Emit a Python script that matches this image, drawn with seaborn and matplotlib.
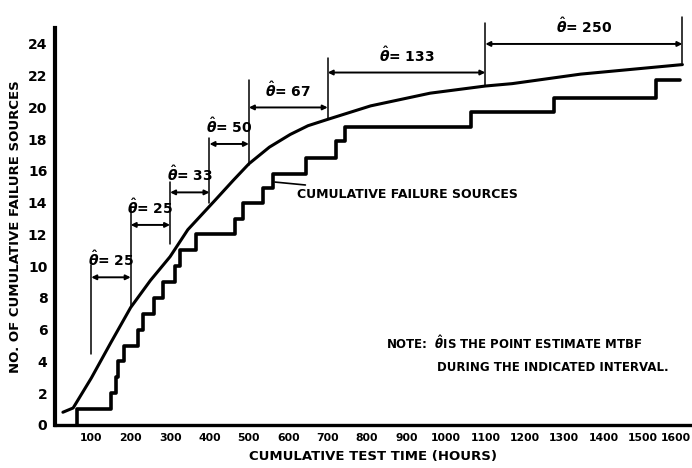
import numpy as np
import pandas as pd
import matplotlib
matplotlib.use("Agg")
import matplotlib.pyplot as plt
import matplotlib.transforms as mtransforms
import seaborn as sns

# cumulative failure sources (step curve)
step_hours = [64, 64, 149, 162, 169, 182, 219, 231, 260, 283, 312, 325, 365,
              464, 486, 537, 561, 646, 721, 744, 1064, 1274, 1532, 1595]
step_count = [0, 1, 2, 3, 4, 5, 6, 7, 8, 9, 10, 11, 12,
              13, 14, 14.9, 15.8, 16.8, 17.9, 18.8, 19.7, 20.6, 21.7, 21.7]

# smooth fitted growth curve
curve_hours = [28, 54, 100, 150, 200, 250, 300, 345, 414, 460, 500, 552, 605,
               650, 700, 809, 960, 1100, 1168, 1342, 1600]
curve_count = [0.8, 1.07, 2.95, 5.2, 7.4, 9.1, 10.6, 12.3, 14.15, 15.4, 16.45,
               17.5, 18.3, 18.85, 19.25, 20.1, 20.9, 21.35, 21.5, 22.1, 22.7]

# MTBF intervals and point estimates
interval_start = [100, 200, 300, 400, 500, 700, 1100]
interval_end = [200, 300, 400, 500, 700, 1100, 1600]
mtbf = [25, 25, 33, 50, 67, 133, 250]
arrow_level = [9.3, 12.6, 14.65, 17.7, 20.0, 22.2, 24.0]
# bottom / top of vertical marker lines at each boundary
bound_hours = [100, 200, 300, 400, 500, 700, 1100, 1600]
bound_low = [4.5, 7.4, 11.4, 14.0, 16.4, 19.3, 21.35, 22.8]
bound_high = [10.1, 13.7, 15.3, 18.1, 21.7, 23.1, 25.3, 25.7]

x_ticks = [100, 200, 300, 400, 500, 600, 700, 800, 900, 1000, 1100, 1200,
           1300, 1400, 1500, 1600]
y_ticks = [0, 2, 4, 6, 8, 10, 12, 14, 16, 18, 20, 22, 24]

sns.set_theme(style="white")
plt.rcParams["font.family"] = ["DejaVu Sans"]
plt.rcParams["font.weight"] = "bold"
plt.rcParams["text.color"] = "black"
plt.rcParams["axes.labelcolor"] = "black"
plt.rcParams["mathtext.fontset"] = "dejavusans"

fig = plt.figure(figsize=(6.92, 4.68), dpi=100)
ax = fig.add_axes([0.0795, 0.092, 0.918, 0.848])

steps = pd.DataFrame({"hours": step_hours, "count": step_count})
curve = pd.DataFrame({"hours": curve_hours, "count": curve_count})

sns.lineplot(data=steps, x="hours", y="count", ax=ax, color="black",
             linewidth=2.6, drawstyle="steps-post", estimator=None, sort=False)
sns.lineplot(data=curve, x="hours", y="count", ax=ax, color="black",
             linewidth=2.2, estimator=None, sort=False)

# vertical boundaries of the intervals
for h, lo, hi in zip(bound_hours, bound_low, bound_high):
    ax.plot([h, h], [lo, hi], color="black", linewidth=1.1, clip_on=False)

# dimension arrows + labels
for s, e, m, lvl in zip(interval_start, interval_end, mtbf, arrow_level):
    ax.annotate("", xy=(s, lvl), xytext=(e, lvl),
                arrowprops=dict(arrowstyle="<|-|>", color="black", lw=1.4,
                                mutation_scale=7, shrinkA=0, shrinkB=0),
                annotation_clip=False)
    ax.text((s + e) / 2, lvl + 0.5, r"$\hat{\theta}$= " + str(m),
            ha="center", va="bottom", fontsize=10, fontweight="bold",
            clip_on=False)

ax.annotate("CUMULATIVE FAILURE SOURCES", xy=(566, 15.3), xytext=(622, 14.5),
            fontsize=9, fontweight="bold", va="center", ha="left",
            arrowprops=dict(arrowstyle="-", color="black", lw=1.2,
                            shrinkA=0, shrinkB=0))

ax.text(848, 5.15, r"NOTE:  $\hat{\theta}$IS THE POINT ESTIMATE MTBF",
        fontsize=8.5, fontweight="bold", va="center", ha="left")
ax.text(978, 3.65, "DURING THE INDICATED INTERVAL.",
        fontsize=8.5, fontweight="bold", va="center", ha="left")

ax.set_xlim(8, 1620)
ax.set_ylim(0, 25)
ax.set_xticks(x_ticks)
ax.set_yticks(y_ticks)
ax.tick_params(axis="both", direction="inout", length=5, width=1.2,
               colors="black", pad=3)
ax.tick_params(axis="x", labelsize=7.8)
ax.tick_params(axis="y", labelsize=10)
for lab in ax.get_xticklabels() + ax.get_yticklabels():
    lab.set_fontweight("bold")
# nudge the last x label so it stays inside the figure
last = ax.get_xticklabels()[-1]
last.set_transform(last.get_transform() +
                   mtransforms.ScaledTranslation(-5 / 72, 0, fig.dpi_scale_trans))
ax.set_xlabel("CUMULATIVE TEST TIME (HOURS)", fontsize=9.5,
              fontweight="bold", labelpad=5)
ax.set_ylabel("NO. OF CUMULATIVE FAILURE SOURCES", fontsize=9.5,
              fontweight="bold", labelpad=4)

sns.despine(ax=ax)
ax.spines["left"].set_linewidth(3)
ax.spines["bottom"].set_linewidth(2.4)
ax.spines["left"].set_color("black")
ax.spines["bottom"].set_color("black")

fig.savefig("out.png", dpi=100)
